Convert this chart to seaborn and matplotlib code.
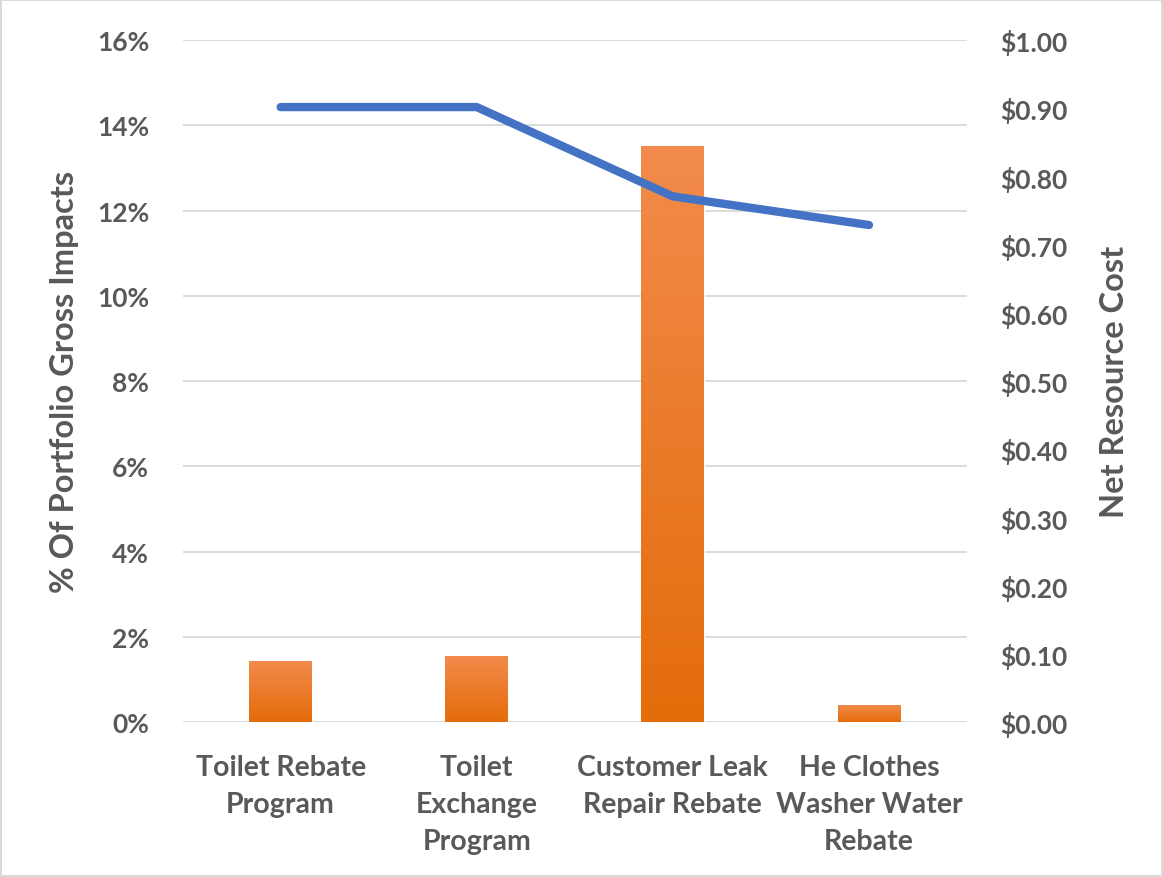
import numpy as np
import pandas as pd
import matplotlib
matplotlib.use("Agg")
import matplotlib.pyplot as plt
from matplotlib.colors import LinearSegmentedColormap
from matplotlib.ticker import FuncFormatter, MultipleLocator
import seaborn as sns

categories = [
    "Toilet Rebate\nProgram",
    "Toilet\nExchange\nProgram",
    "Customer Leak\nRepair Rebate",
    "He Clothes\nWasher Water\nRebate",
]
pct_gross_impacts = [1.44, 1.56, 13.52, 0.40]   # % of portfolio gross impacts
net_resource_cost = [0.902, 0.902, 0.771, 0.729]  # $ per unit

df = pd.DataFrame({"program": categories,
                   "impact": pct_gross_impacts,
                   "cost": net_resource_cost})

sns.set_theme(style="white")
plt.rcParams["font.family"] = ["Lato", "DejaVu Sans"]

TEXT = "#595959"
GRID = "#D9D9D9"
ORANGE = "#ED7D31"
BLUE = "#4472C4"

fig = plt.figure(figsize=(11.63, 8.78), dpi=100)
fig.patch.set_facecolor("white")
fig.patch.set_edgecolor("#D9D9D9")
fig.patch.set_linewidth(1.5)

ax = fig.add_axes([0.157, 0.1765, 0.6745, 0.7765])
sns.barplot(data=df, x="program", y="impact", color=ORANGE, width=0.32,
            saturation=1, ax=ax, zorder=2)

# soft vertical gradient inside each bar
grad_cmap = LinearSegmentedColormap.from_list("bar_grad", ["#E46C0A", "#F28B4C"])
grad = np.linspace(0, 1, 256).reshape(-1, 1)
for patch in ax.patches:
    x0, y0 = patch.get_x(), patch.get_y()
    w, h = patch.get_width(), patch.get_height()
    im = ax.imshow(grad, cmap=grad_cmap, origin="lower", aspect="auto",
                   extent=[x0, x0 + w, y0, y0 + h], zorder=2.5)
    im.set_clip_path(patch)

ax.set_xlim(-0.5, len(categories) - 0.5)
ax.set_ylim(0, 16)
ax.yaxis.set_major_locator(MultipleLocator(2))
ax.yaxis.set_major_formatter(FuncFormatter(lambda v, _: f"{v:.0f}%"))
ax.grid(axis="y", color=GRID, linewidth=1.3, zorder=0)
ax.grid(axis="x", visible=False)
ax.set_axisbelow(True)
for s in ax.spines.values():
    s.set_visible(False)

ax.tick_params(axis="y", length=0, pad=24, labelsize=19, labelcolor=TEXT)
ax.tick_params(axis="x", length=0, pad=23, labelsize=20.5, labelcolor=TEXT)
for lbl in ax.get_xticklabels():
    lbl.set_fontweight("bold")
    lbl.set_linespacing(1.52)
for lbl in ax.get_yticklabels():
    lbl.set_fontweight("bold")
ax.set_xlabel("")
ax.set_ylabel("% Of Portfolio Gross Impacts", fontsize=23.5, fontweight="bold",
              color=TEXT, labelpad=13)

ax2 = ax.twinx()
sns.lineplot(x=np.arange(len(categories)), y=df["cost"], color=BLUE,
             linewidth=6, ax=ax2, solid_capstyle="round", zorder=3)
ax2.set_ylim(0, 1.0)
ax2.yaxis.set_major_locator(MultipleLocator(0.1))
ax2.yaxis.set_major_formatter(FuncFormatter(lambda v, _: f"${v:.2f}"))
ax2.tick_params(axis="y", length=0, pad=24, labelsize=19, labelcolor=TEXT)
for lbl in ax2.get_yticklabels():
    lbl.set_fontweight("bold")
ax2.grid(False)
for s in ax2.spines.values():
    s.set_visible(False)
ax2.set_ylabel("Net Resource Cost", fontsize=23.5, fontweight="bold",
               color=TEXT, labelpad=23)

fig.savefig("out.png", dpi=100, facecolor=fig.get_facecolor(),
            edgecolor=fig.get_edgecolor())
